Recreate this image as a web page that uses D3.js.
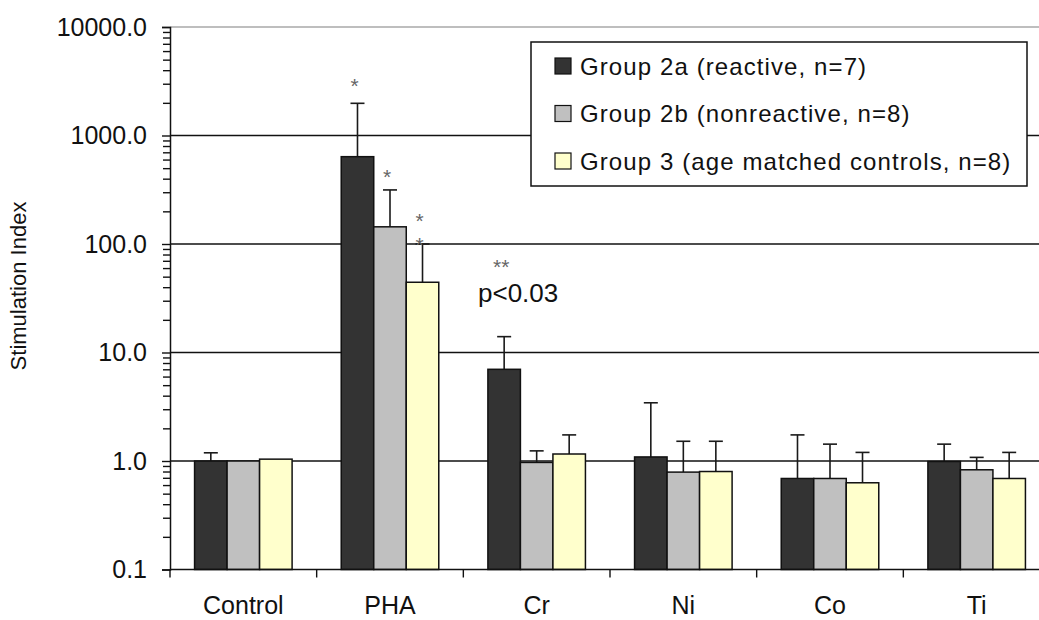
<!DOCTYPE html>
<html>
<head>
<meta charset="utf-8">
<script src="https://cdn.jsdelivr.net/npm/d3@7"></script>
<style>
  html, body { margin: 0; padding: 0; background: #fff; }
  svg { display: block; font-family: "Liberation Sans", Arial, sans-serif; }
</style>
</head>
<body>
<div id="viz"></div>
<script>
const categories = ["Control", "PHA", "Cr", "Ni", "Co", "Ti"];
const groups = [
  "Group 2a (reactive, n=7)",
  "Group 2b (nonreactive, n=8)",
  "Group 3 (age matched controls, n=8)"
];
const colors = ["#333333", "#c0c0c0", "#ffffcc"];

// mean stimulation index per category
const group2a = [1.0, 638, 7.0, 1.09, 0.69, 0.99];
const group2b = [1.0, 144, 0.97, 0.79, 0.69, 0.83];
const group3 = [1.04, 44.4, 1.16, 0.80, 0.63, 0.69];
// top of upper error bar (null = none drawn)
const group2aErr = [1.19, 1980, 14.0, 3.44, 1.74, 1.43];
const group2bErr = [null, 315, 1.24, 1.52, 1.43, 1.08];
const group3Err = [null, 100, 1.74, 1.52, 1.2, 1.2];

const yTicks = [0.1, 1, 10, 100, 1000, 10000];
const gridValues = [1, 10, 100, 1000];

// significance marks: category, group index, y value
const stars = [
  { cat: "PHA", g: 0, v: 3130, text: "*" },
  { cat: "PHA", g: 1, v: 454, text: "*" },
  { cat: "PHA", g: 2, v: 179, text: "*" },
  { cat: "PHA", g: 2, v: 107, text: "*" },
  { cat: "Cr", g: 0, v: 68, text: "**" }
];
const pLabel = { cat: "Cr", g: 0, v: 29.2, text: "p<0.03" };

const width = 1039, height = 620;
const margin = { top: 27, left: 170, bottom: 50.5, rightEdge: 1050 };

const svg = d3.select("#viz").append("svg")
  .attr("width", width)
  .attr("height", height);

const y = d3.scaleLog()
  .domain([0.1, 10000])
  .range([height - margin.bottom, margin.top]);

const x0 = d3.scaleBand()
  .domain(categories)
  .range([margin.left, margin.rightEdge])
  .paddingInner(0.335)
  .paddingOuter(0.1675);

const x1 = d3.scaleBand()
  .domain(d3.range(groups.length))
  .range([0, x0.bandwidth()]);

const step = x0.step();
const catStart = c => margin.left + categories.indexOf(c) * step;

// gridlines
svg.append("g")
  .selectAll("line")
  .data(gridValues)
  .join("line")
  .attr("x1", margin.left).attr("x2", width)
  .attr("y1", d => y(d)).attr("y2", d => y(d))
  .attr("stroke", "#111")
  .attr("stroke-width", 1.5);

svg.append("line")
  .attr("x1", margin.left).attr("x2", width)
  .attr("y1", y(10000)).attr("y2", y(10000))
  .attr("stroke", "#a8a8a8")
  .attr("stroke-width", 1.5);

// bars
const series = [group2a, group2b, group3];
const errs = [group2aErr, group2bErr, group3Err];
const rows = [];
categories.forEach((c, i) => {
  series.forEach((s, g) => rows.push({ cat: c, g, v: s[i], err: errs[g][i] }));
});

const bw = x1.bandwidth();

// error bars (behind bars so they start at bar top)
const eb = svg.append("g")
  .selectAll("g")
  .data(rows.filter(d => d.err != null))
  .join("g")
  .attr("stroke", "#1a1a1a")
  .attr("stroke-width", 1.6);

eb.append("line")
  .attr("x1", d => x0(d.cat) + x1(d.g) + bw / 2)
  .attr("x2", d => x0(d.cat) + x1(d.g) + bw / 2)
  .attr("y1", d => y(d.v))
  .attr("y2", d => y(d.err));

eb.append("line")
  .attr("x1", d => x0(d.cat) + x1(d.g) + bw / 2 - 7)
  .attr("x2", d => x0(d.cat) + x1(d.g) + bw / 2 + 7)
  .attr("y1", d => y(d.err))
  .attr("y2", d => y(d.err));

svg.append("g")
  .selectAll("rect")
  .data(rows)
  .join("rect")
  .attr("x", d => x0(d.cat) + x1(d.g))
  .attr("y", d => y(d.v))
  .attr("width", bw)
  .attr("height", d => y(0.1) - y(d.v))
  .attr("fill", d => colors[d.g])
  .attr("stroke", "#111")
  .attr("stroke-width", 1.5);

// y axis
const yAxis = svg.append("g")
  .attr("transform", `translate(${margin.left},0)`)
  .call(d3.axisLeft(y)
    .tickValues(yTicks)
    .tickFormat(d3.format(".1f"))
    .tickSize(8)
    .tickPadding(15));

const minor = [];
yTicks.slice(0, -1).forEach(t => d3.range(2, 10).forEach(k => minor.push(t * k)));
svg.append("g")
  .attr("transform", `translate(${margin.left},0)`)
  .call(d3.axisLeft(y).tickValues(minor).tickFormat("").tickSize(7))
  .call(g => g.select(".domain").remove());

svg.selectAll(".tick line").attr("stroke", "#111").attr("stroke-width", 1.4);
yAxis.select(".domain").attr("stroke", "#111").attr("stroke-width", 1.5);
yAxis.selectAll("text")
  .attr("font-size", 25)
  .attr("fill", "#111")
  .attr("font-family", "'Liberation Sans', Arial, sans-serif");

// x axis
svg.append("line")
  .attr("x1", margin.left).attr("x2", width)
  .attr("y1", y(0.1)).attr("y2", y(0.1))
  .attr("stroke", "#111")
  .attr("stroke-width", 1.5);

svg.append("g")
  .selectAll("line")
  .data(categories)
  .join("line")
  .attr("x1", d => catStart(d)).attr("x2", d => catStart(d))
  .attr("y1", y(0.1)).attr("y2", y(0.1) + 8)
  .attr("stroke", "#111")
  .attr("stroke-width", 1.4);

svg.append("g")
  .selectAll("text")
  .data(categories)
  .join("text")
  .attr("x", d => x0(d) + x0.bandwidth() / 2)
  .attr("y", 614)
  .attr("text-anchor", "middle")
  .attr("font-size", 25)
  .attr("fill", "#111")
  .text(d => d);

// y title
svg.append("text")
  .attr("transform", "translate(26,286) rotate(-90)")
  .attr("text-anchor", "middle")
  .attr("font-size", 22)
  .attr("fill", "#111")
  .text("Stimulation Index");

// significance marks
svg.append("g")
  .selectAll("text")
  .data(stars)
  .join("text")
  .attr("x", d => x0(d.cat) + x1(d.g) + bw / 2 - 3)
  .attr("y", d => y(d.v))
  .attr("dy", "0.55em")
  .attr("text-anchor", "middle")
  .attr("font-size", 21)
  .attr("fill", "#666")
  .text(d => d.text);

svg.append("text")
  .attr("x", x0(pLabel.cat) + x1(pLabel.g) + bw / 2 + 14)
  .attr("y", y(pLabel.v))
  .attr("text-anchor", "middle")
  .attr("font-size", 26)
  .attr("fill", "#111")
  .text(pLabel.text);

// legend
const legend = svg.append("g").attr("transform", "translate(531,42)");
legend.append("rect")
  .attr("width", 496)
  .attr("height", 144)
  .attr("fill", "#fff")
  .attr("stroke", "#111")
  .attr("stroke-width", 1.5);

const item = legend.selectAll("g.item")
  .data(groups)
  .join("g")
  .attr("class", "item")
  .attr("transform", (d, i) => `translate(24,${24 + i * 47.5})`);

item.append("rect")
  .attr("x", 0).attr("y", -8)
  .attr("width", 16).attr("height", 16)
  .attr("fill", (d, i) => colors[i])
  .attr("stroke", "#111")
  .attr("stroke-width", 1.2);

item.append("text")
  .attr("x", 25)
  .attr("dy", "0.36em")
  .attr("font-size", 24)
  .attr("letter-spacing", 1.1)
  .attr("fill", "#111")
  .text(d => d);
</script>
</body>
</html>
